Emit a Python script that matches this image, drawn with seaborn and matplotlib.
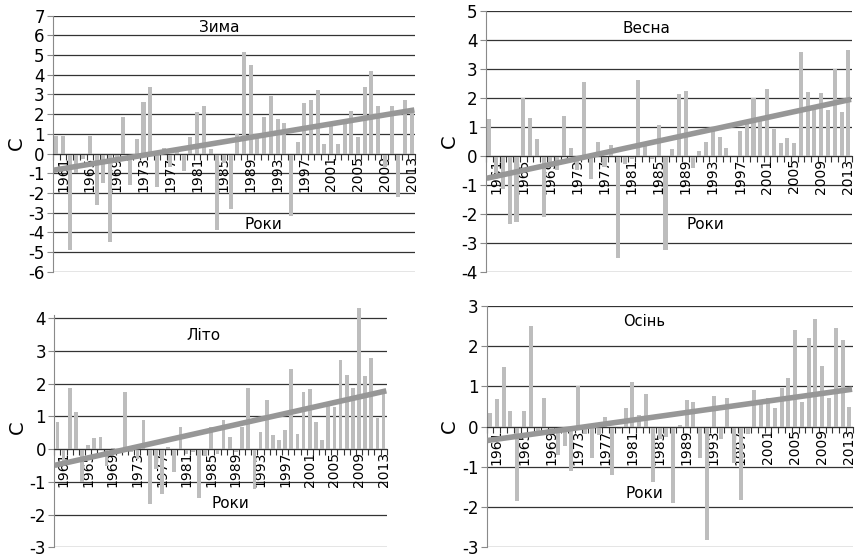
import numpy as np
import pandas as pd
import matplotlib
matplotlib.use('Agg')
import matplotlib.pyplot as plt
import seaborn as sns

# anomalies by season, 1960-2013
years = list(range(1960, 2014))
label_years = list(range(1961, 2014, 4))

winter = [0.9, 0.9, -4.9, -1.0, -0.3, 0.9, -2.6, -1.5, -4.5, -0.2,
          1.85, -1.6, 0.75, 2.6, 3.4, -1.7, 0.3, -0.7, 0.1, -0.9,
          0.85, 2.1, 2.4, 0.25, -3.9, -0.5, -2.8, 1.0, 5.15, 4.5,
          0.8, 1.85, 2.9, 1.75, 1.55, -3.15, 0.6, 2.55, 2.7, 3.2,
          0.5, 1.4, 0.5, 1.5, 2.15, 0.85, 3.4, 4.2, 2.4, -0.7,
          2.4, -2.2, 2.7, 2.1]

spring = [1.26, -0.6, -1.15, -2.37, -2.3, 2.0, 1.3, 0.58, -2.13, -0.3,
          -0.5, 1.37, 0.26, -0.5, 2.55, -0.82, 0.47, -0.4, 0.35, -3.54,
          -0.28, -0.1, 2.6, 0.32, -0.1, 1.05, -3.25, 0.22, 2.12, 2.22,
          -0.43, 0.16, 0.46, 0.88, 0.64, 0.26, -0.05, 0.84, 1.1, 2.0,
          1.2, 2.3, 0.92, 0.44, 0.6, 0.44, 3.58, 2.2, 1.6, 2.17,
          1.57, 3.0, 1.5, 3.64]

summer = [0.83, -0.45, 1.86, 1.13, -0.99, 0.12, 0.34, 0.36, -0.5, 0.04,
          -0.1, 1.76, -0.1, -0.3, 0.89, -1.68, -0.6, -1.37, 0.06, -0.7,
          0.68, -0.16, -0.1, -1.5, -0.21, 0.67, -0.16, 0.89, 0.37, -0.1,
          0.69, 1.86, -1.22, 0.53, 1.49, 0.44, 0.28, 0.6, 2.44, 0.47,
          1.74, 1.83, 0.83, 0.28, 1.33, 1.29, 2.74, 2.26, 1.86, 4.31,
          2.25, 2.8, 0.95, 1.74]

autumn = [0.33, 0.68, 1.49, 0.38, -1.87, 0.38, 2.5, -0.1, 0.7, -0.1,
          -0.7, -0.48, -1.12, 1.0, -0.18, -0.78, -0.22, 0.23, -1.22, -0.05,
          0.45, 1.1, 0.28, 0.8, -1.39, -0.3, -0.26, -1.9, 0.05, 0.67,
          0.6, -0.78, -2.83, 0.75, -0.3, 0.7, -0.92, -1.83, -0.18, 0.9,
          0.63, 0.7, 0.46, 0.95, 1.22, 2.41, 0.61, 2.22, 2.68, 1.51,
          0.71, 2.46, 2.17, 0.49]

plt.rcParams['font.family'] = ['Liberation Sans Narrow', 'DejaVu Sans']

BAR = '#bdbdbd'
TREND = '#979797'
GRID = '#333333'

fig = plt.figure(figsize=(8.59, 5.59), dpi=100)

panels = [
    # values, title, ylim, rect, title pos, label pos, title size
    (winter, 'Зима', (-6, 7), [0.0617, 0.514, 0.4214, 0.458], (0.46, 0.955), (0.58, 0.185), 11),
    (spring, 'Весна', (-4, 5), [0.5658, 0.514, 0.4257, 0.467], (0.44, 0.93), (0.6, 0.18), 11),
    (summer, 'Літо', (-3, 4.35), [0.0632, 0.021, 0.387, 0.43], (0.45, 0.88), (0.53, 0.18), 11),
    (autumn, 'Осінь', (-3, 3), [0.5666, 0.022, 0.4261, 0.43], (0.43, 0.935), (0.43, 0.22), 10.5),
]

for vals, title, ylim, rect, tpos, lpos, tsize in panels:
    ax = fig.add_axes(rect)
    df = pd.DataFrame({'year': years, 'value': vals})
    sns.barplot(data=df, x='year', y='value', color=BAR, width=0.6,
                saturation=1, ax=ax, zorder=2)
    # linear trend, fitted from the same series
    sns.regplot(x=np.arange(len(vals)), y=np.array(vals), scatter=False, ci=None,
                ax=ax, color=TREND, line_kws={'linewidth': 4, 'zorder': 3})

    for b in ax.patches:
        b.set_clip_on(False)

    ax.set_xlim(-0.5, len(vals) - 0.5)
    ax.set_ylim(*ylim)
    yt = np.arange(np.ceil(ylim[0]), np.floor(ylim[1]) + 1)
    ax.set_yticks(yt)
    ax.set_yticklabels([f'{int(v)}' for v in yt], fontsize=12)
    for v in yt:
        ax.axhline(v, color=GRID, linewidth=0.9, zorder=1)

    # x axis sits on the zero line
    ax.spines['bottom'].set_position(('data', 0))
    ax.spines['bottom'].set_color(GRID)
    ax.spines['top'].set_visible(False)
    ax.spines['right'].set_visible(False)
    ax.spines['left'].set_color('#8a8a8a')
    ax.spines['left'].set_bounds(ylim[0], min(ylim[1], np.floor(ylim[1]) + 0.1))

    pos = [years.index(y) for y in label_years]
    ax.set_xticks(pos)
    ax.set_xticklabels([str(y) for y in label_years], rotation=90, fontsize=10)
    ax.set_xticks(np.arange(len(vals) + 1) - 0.5, minor=True)
    ax.tick_params(axis='x', which='major', length=0, pad=2)
    ax.tick_params(axis='x', which='minor', length=4, width=0.8, color=GRID, direction='out')
    ax.tick_params(axis='y', length=4, width=0.8, color='#8a8a8a', pad=2)

    ax.set_xlabel('')
    ax.set_ylabel('С', fontsize=14, labelpad=2)
    ax.text(tpos[0], tpos[1], title, transform=ax.transAxes, fontsize=tsize,
            ha='center', va='center')
    ax.text(lpos[0], lpos[1], 'Роки', transform=ax.transAxes, fontsize=11,
            ha='center', va='center')

plt.savefig('out.png', dpi=100)
